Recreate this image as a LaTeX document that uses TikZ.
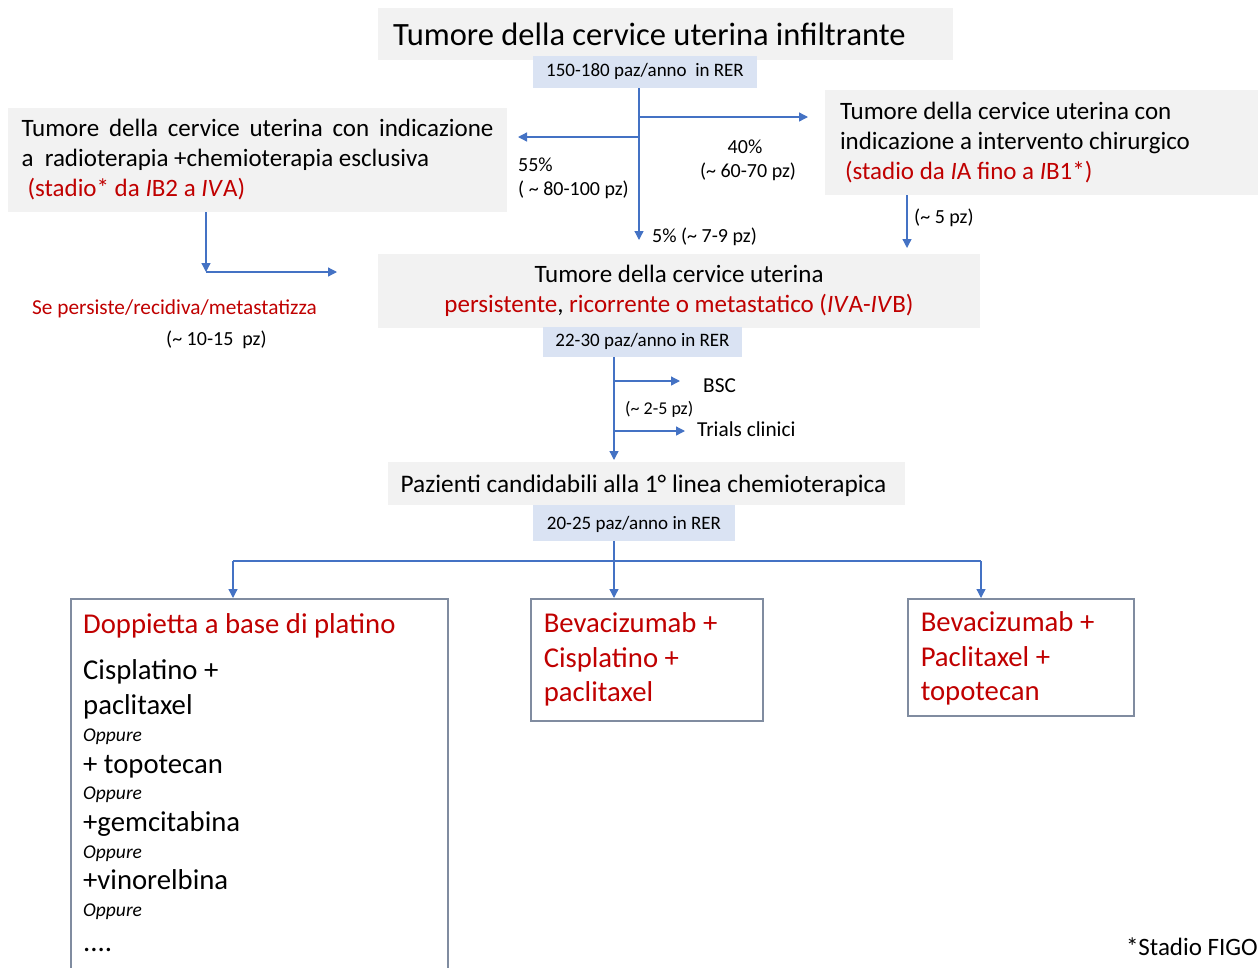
\documentclass[tikz,border=0pt]{standalone}
\usepackage{fontspec}
\setmainfont{Carlito}
\usepackage{tikz}
\usetikzlibrary{arrows.meta, positioning}
\definecolor{FLOWblue}{RGB}{68,114,196}
\definecolor{BOXgray}{RGB}{242,242,242}
\definecolor{BOXblue}{RGB}{218,227,243}
\definecolor{TXTred}{RGB}{192,0,0}
\definecolor{EDGEgray}{RGB}{128,140,160}

\begin{document}
\begin{tikzpicture}[x=1pt, y=-1pt,
                graybox/.style={rectangle,
                fill=BOXgray,
                inner sep=0pt,
                font=\fontsize{25}{30}\selectfont},
                numbox/.style={rectangle,
                fill=BOXblue,
                inner sep=0pt,
                font=\fontsize{19}{22}\selectfont},
                drugbox/.style={rectangle,
                draw=EDGEgray,
                line width=1.5pt,
                fill=white,
                inner sep=0pt,
                anchor=north west,
                text=TXTred,
                font=\fontsize{28.7}{34.5}\selectfont},
                lbl/.style={inner sep=0pt, anchor=west,
                font=\fontsize{20}{24}\selectfont},
                arr/.style={-{Triangle[length=9pt, width=9pt]}, FLOWblue, line width=1.3pt},
                ln/.style={FLOWblue, line width=1.3pt}]
                \useasboundingbox (0,0) rectangle (1258,967);
                % top of the flow
                \node[graybox, minimum width=575pt, minimum height=52pt,
                      text width=545pt, align=flush left,
                      font=\fontsize{32.5}{38}\selectfont] (title) at (665.5,34)
                    {\rule[-4.6pt]{0pt}{31.2pt}Tumore della cervice uterina infiltrante};
                \node[numbox, minimum width=224pt, minimum height=32pt] (rer1) at (645,72)
                    {\strut 150-180 paz/anno\ \ in RER};
                \node[graybox, minimum width=499pt, minimum height=104pt,
                      text width=472pt, align=justify] (radio) at (257.5,160)
                    {Tumore della cervice uterina con indicazione\linebreak
                     a\ \ radioterapia +chemioterapia esclusiva\\
                     \hspace*{6pt}\textcolor{TXTred}{(stadio* da \textit{I}B2 a \textit{IV}A)}};
                \node[graybox, minimum width=433pt, minimum height=105pt,
                      text width=403pt, align=flush left] (surg) at (1041.5,142.5)
                    {Tumore della cervice uterina con\\
                     indicazione a intervento chirurgico\\
                     \hspace*{5pt}\textcolor{TXTred}{(stadio da \textit{I}A fino a \textit{I}B1*)}};
                \node[graybox, minimum width=602pt, minimum height=74pt,
                      align=center] (recur) at (679,291)
                    {Tumore della cervice uterina\\
                     \textcolor{TXTred}{persistente}, \textcolor{TXTred}{ricorrente o metastatico (\textit{IV}A-\textit{IV}B)}};
                \node[numbox, minimum width=199pt, minimum height=30pt] (rer2) at (642.5,342)
                    {\strut 22-30 paz/anno in RER};
                \node[graybox, minimum width=517pt, minimum height=43pt,
                      font=\fontsize{25.3}{30}\selectfont] (cand) at (646.5,483.5)
                    {\rule[-5pt]{0pt}{27pt}Pazienti candidabili alla 1° linea chemioterapica\hspace*{6pt}};
                \node[numbox, minimum width=202pt, minimum height=36pt] (rer3) at (634,523)
                    {\rule[-3pt]{0pt}{19pt}20-25 paz/anno in RER};
                % the three schemes
                \node[drugbox, minimum width=377pt, minimum height=390pt] (dop) at (70,598) {};
                \node[anchor=north west, inner sep=0pt, text width=350pt, align=flush left,
                      font=\fontsize{28.7}{26}\selectfont]
                      (doplist) at ([xshift=13pt, yshift=-15pt]dop.north west)
                    {\textcolor{TXTred}{Doppietta a base di platino}\\[20pt]
                     Cisplatino +\\[9pt]
                     paclitaxel\\[1pt]
                     {\fontsize{19.5}{26}\selectfont\itshape Oppure}\\[6pt]
                     + topotecan\\[0pt]
                     {\fontsize{19.5}{26}\selectfont\itshape Oppure}\\[6pt]
                     +gemcitabina\\[1pt]
                     {\fontsize{19.5}{26}\selectfont\itshape Oppure}\\[5pt]
                     +vinorelbina\\[1pt]
                     {\fontsize{19.5}{26}\selectfont\itshape Oppure}\\[9pt]
                     ....};
                \node[drugbox, minimum width=232pt, minimum height=122pt,
                      text width=206pt, align=flush left] (bevcis) at (530,598)
                    {Bevacizumab +\\ Cisplatino +\\ paclitaxel};
                \node[drugbox, minimum width=226pt, minimum height=117pt,
                      text width=200pt, align=flush left] (bevpac) at (907,598)
                    {\rule{0pt}{23pt}Bevacizumab +\\ Paclitaxel +\\ topotecan};
                \node[inner sep=0pt, anchor=base east,
                      font=\fontsize{25}{30}\selectfont] (figo) at (1258,955) {*Stadio FIGO};
                % labels on the connectors
                \node[lbl] (p55) at (518,165) {55\%};
                \node[lbl] (n55) at (518,190) {( \textasciitilde{} 80-100 pz)};
                \node[lbl, anchor=center] (p40) at (745,147) {40\%};
                \node[lbl, anchor=center] (n40) at (748,172) {(\textasciitilde{} 60-70 pz)};
                \node[lbl] (p5) at (652,237) {5\% (\textasciitilde{} 7-9 pz)};
                \node[lbl] (n5) at (914,218) {(\textasciitilde{} 5 pz)};
                \node[lbl, text=TXTred, font=\fontsize{21.3}{25}\selectfont] (relapse) at (32,309)
                    {Se persiste/recidiva/metastatizza};
                \node[lbl] (n1015) at (166,340) {(\textasciitilde{} 10-15\ \ pz)};
                \node[lbl, font=\fontsize{21.3}{25}\selectfont] (bsc) at (703,386) {BSC};
                \node[lbl, font=\fontsize{18}{22}\selectfont] (n25) at (625,409) {(\textasciitilde{} 2-5 pz)};
                \node[lbl, font=\fontsize{21.3}{25}\selectfont] (trials) at (697,429) {Trials clinici};
                % connectors
                \coordinate (fivep) at (639,240);
                \coordinate (toradio) at (518,137);
                \coordinate (tosurg) at (808,117);
                \draw[arr] (rer1.south -| fivep)--(fivep);
                \draw[arr] (fivep |- toradio)--(toradio);
                \draw[arr] (fivep |- tosurg)--(tosurg);
                \coordinate (surgdown) at (907,248);
                \draw[arr] (surg.south -| surgdown)--(surgdown);
                \coordinate (radiodown) at (206,272);
                \coordinate (radioright) at (337,272);
                \draw[arr] (radio.south -| radiodown)--(radiodown);
                \draw[arr] (radiodown)--(radioright);
                \coordinate (trunk) at (614,460);
                \coordinate (tobsc) at (680,381);
                \coordinate (totrials) at (685,431);
                \draw[arr] (rer2.south -| trunk)--(trunk);
                \draw[arr] (trunk |- tobsc)--(tobsc);
                \draw[arr] (trunk |- totrials)--(totrials);
                \coordinate (fork) at (614,561);
                \coordinate (forkL) at (233,561);
                \coordinate (forkR) at (981,561);
                \draw[ln] (rer3.south -| fork)--(fork);
                \draw[ln] (forkL)--(forkR);
                \draw[arr] (forkL)--(forkL |- dop.north);
                \draw[arr] (fork)--(fork |- bevcis.north);
                \draw[arr] (forkR)--(forkR |- bevpac.north);
            \end{tikzpicture}
\end{document}
